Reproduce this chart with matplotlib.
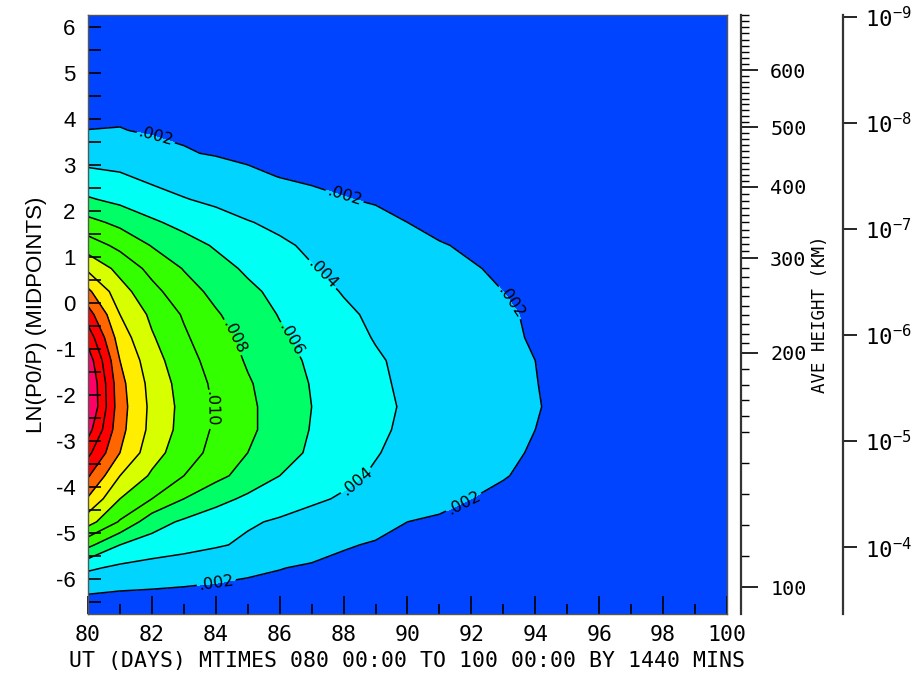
import matplotlib
matplotlib.use("Agg")
import matplotlib.pyplot as plt
import numpy as np

# Grid: UT days (daily) and LN(P0/P) midpoints
days = list(range(80, 101))
lnp = [-6.75, -6.25, -5.75, -5.25, -4.75, -4.25, -3.75, -3.25, -2.75, -2.25,
       -1.75, -1.25, -0.75, -0.25, 0.25, 0.75, 1.25, 1.75, 2.25, 2.75,
       3.25, 3.75, 4.25, 4.75, 5.25, 5.75, 6.25]

# field values, one row per lnp level (days 80..100)
values = [
    [0.0008, 0.0008, 0.0008, 0.0007, 0.0007, 0.0007, 0.0006, 0.0006, 0.0006, 0.0006, 0.0005, 0.0005, 0.0005, 0.0005, 0.0005, 0.0004, 0.0004, 0.0004, 0.0004, 0.0004, 0.0004],
    [0.0022, 0.0020, 0.0019, 0.0018, 0.0017, 0.0016, 0.0015, 0.0014, 0.0013, 0.0012, 0.0011, 0.0011, 0.0010, 0.0010, 0.0009, 0.0009, 0.0008, 0.0008, 0.0008, 0.0007, 0.0007],
    [0.0043, 0.0036, 0.0032, 0.0029, 0.0026, 0.0023, 0.00205, 0.0018, 0.0017, 0.0016, 0.0015, 0.0014, 0.0013, 0.0012, 0.0011, 0.0010, 0.0010, 0.0009, 0.0009, 0.0008, 0.0008],
    [0.0085, 0.0060, 0.0052, 0.0047, 0.0042, 0.0037, 0.0032, 0.0027, 0.0021, 0.0019, 0.0017, 0.0015, 0.0014, 0.0013, 0.0012, 0.0011, 0.0010, 0.0010, 0.0009, 0.0009, 0.0008],
    [0.0128, 0.0098, 0.0068, 0.0057, 0.0048, 0.0042, 0.0038, 0.0033, 0.0029, 0.0024, 0.0020, 0.0018, 0.0016, 0.0015, 0.0014, 0.0013, 0.0012, 0.0011, 0.0010, 0.0010, 0.0009],
    [0.0158, 0.0120, 0.0100, 0.0080, 0.0067, 0.0056, 0.0048, 0.0043, 0.0038, 0.0033, 0.0029, 0.0024, 0.0020, 0.0018, 0.0016, 0.0015, 0.0014, 0.0013, 0.0012, 0.0011, 0.0010],
    [0.0182, 0.0140, 0.0117, 0.0100, 0.0085, 0.0073, 0.0060, 0.0051, 0.0044, 0.0038, 0.0033, 0.0028, 0.0024, 0.00205, 0.0018, 0.0016, 0.0015, 0.0014, 0.0013, 0.0012, 0.0011],
    [0.0205, 0.0160, 0.0128, 0.0109, 0.0094, 0.0080, 0.0068, 0.0057, 0.0048, 0.0041, 0.0035, 0.0030, 0.0026, 0.0022, 0.0019, 0.0017, 0.0016, 0.0015, 0.0014, 0.0013, 0.0012],
    [0.0228, 0.0166, 0.0134, 0.0113, 0.0097, 0.0084, 0.0071, 0.0059, 0.0050, 0.0043, 0.0037, 0.0032, 0.0028, 0.0024, 0.0020, 0.0018, 0.0017, 0.0016, 0.0015, 0.0014, 0.0013],
    [0.0243, 0.0168, 0.0135, 0.0114, 0.0098, 0.0084, 0.0071, 0.0060, 0.0051, 0.0044, 0.0038, 0.0033, 0.0028, 0.0024, 0.00205, 0.0018, 0.0017, 0.0016, 0.0015, 0.0014, 0.0013],
    [0.0242, 0.0166, 0.0133, 0.0112, 0.0096, 0.0082, 0.0070, 0.0059, 0.0050, 0.0043, 0.0037, 0.0032, 0.0028, 0.0024, 0.00202, 0.0018, 0.0017, 0.0016, 0.0015, 0.0014, 0.0013],
    [0.0232, 0.0160, 0.0128, 0.0108, 0.0092, 0.0078, 0.0067, 0.0057, 0.0048, 0.0042, 0.0036, 0.0032, 0.0028, 0.0024, 0.0020, 0.0018, 0.0017, 0.0016, 0.0015, 0.0014, 0.0013],
    [0.0212, 0.0150, 0.0122, 0.0103, 0.0087, 0.0075, 0.0063, 0.0054, 0.0046, 0.0039, 0.0034, 0.0030, 0.0026, 0.0022, 0.0019, 0.0018, 0.0017, 0.0016, 0.0015, 0.0014, 0.0013],
    [0.0189, 0.0140, 0.0116, 0.0098, 0.0082, 0.0070, 0.0059, 0.0050, 0.0043, 0.0037, 0.0032, 0.0028, 0.0025, 0.0021, 0.0019, 0.0018, 0.0017, 0.0016, 0.0015, 0.0014, 0.0013],
    [0.0164, 0.0128, 0.0106, 0.0088, 0.0075, 0.0064, 0.0055, 0.0046, 0.0039, 0.0034, 0.0030, 0.0026, 0.0023, 0.0020, 0.0018, 0.0017, 0.0016, 0.0015, 0.0014, 0.0013, 0.0013],
    [0.0136, 0.0114, 0.0094, 0.0079, 0.0067, 0.0057, 0.0049, 0.0041, 0.0035, 0.0031, 0.0027, 0.0024, 0.00205, 0.0019, 0.0017, 0.0016, 0.0015, 0.0014, 0.0013, 0.0013, 0.0012],
    [0.0110, 0.0095, 0.0079, 0.0068, 0.0058, 0.0050, 0.0043, 0.0037, 0.0032, 0.0028, 0.0024, 0.00205, 0.0019, 0.0017, 0.0016, 0.0015, 0.0014, 0.0013, 0.0013, 0.0012, 0.0011],
    [0.0086, 0.0075, 0.0063, 0.0054, 0.0048, 0.0041, 0.0036, 0.0031, 0.0027, 0.0023, 0.0020, 0.0018, 0.0017, 0.0016, 0.0015, 0.0014, 0.0013, 0.0012, 0.0012, 0.0011, 0.0010],
    [0.0062, 0.0055, 0.0047, 0.0041, 0.0036, 0.0031, 0.0027, 0.0023, 0.00205, 0.0019, 0.0018, 0.0017, 0.0016, 0.0015, 0.0014, 0.0013, 0.0012, 0.0012, 0.0011, 0.0010, 0.0010],
    [0.0045, 0.0042, 0.0036, 0.0031, 0.0027, 0.0023, 0.00196, 0.0018, 0.0017, 0.0016, 0.0015, 0.0014, 0.0013, 0.0012, 0.0011, 0.0011, 0.0010, 0.0010, 0.0009, 0.0009, 0.0008],
    [0.0032, 0.0031, 0.0025, 0.0021, 0.0019, 0.0017, 0.0016, 0.0015, 0.0014, 0.0013, 0.0012, 0.0011, 0.0010, 0.0010, 0.0009, 0.0009, 0.0008, 0.0008, 0.0007, 0.0007, 0.0007],
    [0.00201, 0.00205, 0.00185, 0.0018, 0.0017, 0.0016, 0.0015, 0.0014, 0.0013, 0.0012, 0.0011, 0.0010, 0.0009, 0.0009, 0.0008, 0.0008, 0.0007, 0.0007, 0.0006, 0.0006, 0.0006],
    [0.0017, 0.0017, 0.0016, 0.0015, 0.0015, 0.0014, 0.0013, 0.0012, 0.0011, 0.0011, 0.0010, 0.0009, 0.0009, 0.0008, 0.0008, 0.0007, 0.0007, 0.0006, 0.0006, 0.0006, 0.0005],
    [0.0014, 0.0014, 0.0013, 0.0013, 0.0012, 0.0012, 0.0011, 0.0010, 0.0010, 0.0009, 0.0009, 0.0008, 0.0008, 0.0007, 0.0007, 0.0006, 0.0006, 0.0006, 0.0005, 0.0005, 0.0005],
    [0.0011, 0.0011, 0.0010, 0.0010, 0.0010, 0.0009, 0.0009, 0.0008, 0.0008, 0.0008, 0.0007, 0.0007, 0.0006, 0.0006, 0.0006, 0.0005, 0.0005, 0.0005, 0.0005, 0.0004, 0.0004],
    [0.0008, 0.0008, 0.0008, 0.0008, 0.0007, 0.0007, 0.0007, 0.0006, 0.0006, 0.0006, 0.0006, 0.0005, 0.0005, 0.0005, 0.0005, 0.0004, 0.0004, 0.0004, 0.0004, 0.0004, 0.0003],
    [0.0006, 0.0006, 0.0006, 0.0006, 0.0005, 0.0005, 0.0005, 0.0005, 0.0005, 0.0004, 0.0004, 0.0004, 0.0004, 0.0004, 0.0003, 0.0003, 0.0003, 0.0003, 0.0003, 0.0003, 0.0003],
]

line_levels = [0.002, 0.004, 0.006, 0.008, 0.010, 0.012, 0.014, 0.016, 0.018, 0.020, 0.022]
fill_levels = [0.0] + line_levels + [0.03]
fill_colors = ["#0044ff", "#00d4ff", "#00fff4", "#00ff66", "#33ff00", "#33ff00",
               "#d8ff00", "#ffee00", "#ff6600", "#ff0000", "#ff0000", "#ff0066"]

# right-hand axes: average height (km) against lnp, pressure reference
height_km = [100, 150, 200, 300, 400, 500, 600, 700]
height_lnp = [-6.17, -2.8, -1.07, 0.98, 2.54, 3.83, 5.07, 6.4]
p_ref = 5e-7
pressure_ticks = [1e-9, 1e-8, 1e-7, 1e-6, 1e-5, 1e-4]
pressure_labels = ["$10^{-9}$", "$10^{-8}$", "$10^{-7}$", "$10^{-6}$", "$10^{-5}$", "$10^{-4}$"]

plt.rcParams["axes.unicode_minus"] = False
plt.rcParams["mathtext.fontset"] = "custom"
plt.rcParams["mathtext.rm"] = "DejaVu Sans Mono"
plt.rcParams["mathtext.it"] = "DejaVu Sans Mono"
plt.rcParams["mathtext.bf"] = "DejaVu Sans Mono"

mono = "DejaVu Sans Mono"
sans = ["Liberation Sans", "DejaVu Sans"]

fig = plt.figure(figsize=(9.12, 6.76), dpi=100)
ax = fig.add_axes([0.0965, 0.0917, 0.7006, 0.886])

X, Y = np.meshgrid(days, lnp)
Z = np.array(values)
ax.contourf(X, Y, Z, levels=fill_levels, colors=fill_colors)
cs = ax.contour(X, Y, Z, levels=line_levels, colors="black", linewidths=1.1)

label_spots = [(82.1, 3.55), (88.0, 2.25), (93.2, 0.0), (91.6, -4.1), (84.0, -6.0),
               (87.3, 0.6), (88.5, -3.95), (86.3, -0.8), (84.4, -0.8), (83.8, -2.3)]
ax.clabel(cs, levels=[0.002, 0.004, 0.006, 0.008, 0.010], manual=label_spots,
          fmt=lambda v: f"{v:.3f}".lstrip("0"), fontsize=11.5, inline=True, inline_spacing=2)

ax.set_xlim(80, 100)
ax.set_ylim(-6.75, 6.25)
ax.set_xticks(range(80, 101, 2))
ax.set_xticks(range(81, 100, 2), minor=True)
ax.set_yticks(range(-6, 7))
ax.set_yticks(np.arange(-6.5, 6.5, 1.0), minor=True)
ax.tick_params(axis="x", which="major", direction="in", length=13, width=1.2, pad=8)
ax.tick_params(axis="x", which="minor", direction="in", length=7, width=1.2)
ax.tick_params(axis="y", which="both", direction="in", length=9, width=1.2, pad=9)
for t in ax.get_xticklabels():
    t.set_fontfamily(mono)
    t.set_fontsize(15.5)
for t in ax.get_yticklabels():
    t.set_fontfamily(sans)
    t.set_fontsize(16)
ax.set_xlabel("UT (DAYS) MTIMES 080 00:00 TO 100 00:00 BY 1440 MINS",
              fontfamily=mono, fontsize=15.5, labelpad=4)
ax.set_ylabel("LN(P0/P) (MIDPOINTS)", fontfamily=sans, fontsize=16, labelpad=6)
for s in ax.spines.values():
    s.set_linewidth(1.0)
    s.set_color("#555555")

# height axis
ax2 = ax.twinx()
ax2.set_ylim(ax.get_ylim())
for side in ["left", "top", "bottom"]:
    ax2.spines[side].set_visible(False)
ax2.spines["right"].set_position(("axes", 1.022))
ax2.spines["right"].set_linewidth(1.6)
ax2.spines["right"].set_color("#333333")
major_h = [100, 200, 300, 400, 500, 600]
minor_h = [h for h in range(100, 700, 10)]
ax2.set_yticks(np.interp(major_h, height_km, height_lnp))
ax2.set_yticklabels([str(h) for h in major_h], fontfamily=mono, fontsize=14.5)
ax2.set_yticks(np.interp(minor_h, height_km, height_lnp), minor=True)
ax2.tick_params(axis="y", which="major", direction="out", length=12, width=1.2, pad=9)
ax2.tick_params(axis="y", which="minor", direction="out", length=6, width=1.0)
ax2.set_ylabel("AVE HEIGHT (KM)", fontfamily=mono, fontsize=12.5, labelpad=3)

# pressure axis
ax3 = ax.twinx()
ax3.set_ylim(ax.get_ylim())
for side in ["left", "top", "bottom"]:
    ax3.spines[side].set_visible(False)
ax3.spines["right"].set_position(("axes", 1.181))
ax3.spines["right"].set_linewidth(1.6)
ax3.spines["right"].set_color("#333333")
ax3.set_yticks([np.log(p_ref / p) for p in pressure_ticks])
ax3.set_yticklabels(pressure_labels, fontsize=16)
ax3.tick_params(axis="y", which="major", direction="out", length=10, width=1.2, pad=6)
ax3.yaxis.set_minor_locator(matplotlib.ticker.NullLocator())

fig.savefig("out.png", dpi=100)
